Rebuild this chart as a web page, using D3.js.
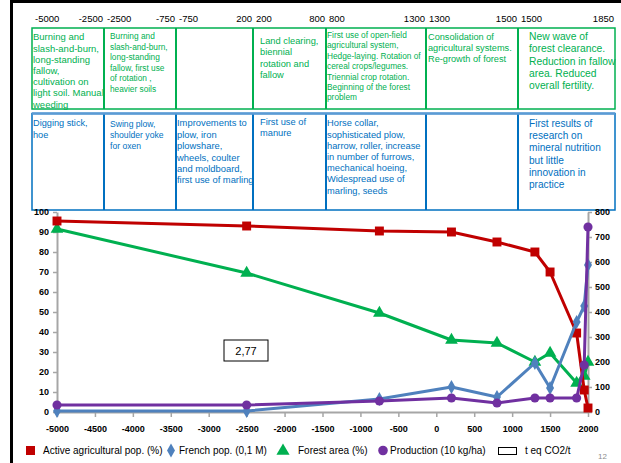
<!DOCTYPE html>
<html>
<head>
<meta charset="utf-8">
<script src="https://cdn.jsdelivr.net/npm/d3@7"></script>
<style>
  body { margin: 0; background: #fff; }
  svg { display: block; font-family: "Liberation Sans", Arial, sans-serif; }
</style>
</head>
<body>
<div id="chart"></div>
<script>
// periods of the table (start, end)
const periods = [[-5000, -2500], [-2500, -750], [-750, 200], [200, 800], [800, 1300], [1300, 1500], [1500, 1850]];

// agricultural systems row
const practices = [
  ["Burning and", "slash-and-burn,", "long-standing", "fallow,", "cultivation on", "light soil. Manual", "weeding"],
  ["Burning and", "slash-and-burn,", "long-standing", "fallow, first use", "of rotation ,", "heavier soils"],
  [],
  ["Land clearing,", "biennial", "rotation and", "fallow"],
  ["First use of open-field", "agricultural system,", "Hedge-laying. Rotation of", "cereal crops/legumes.", "Triennial crop rotation.", "Beginning of the forest", "problem"],
  ["Consolidation of", "agricultural systems.", "Re-growth of forest"],
  ["New wave of", "forest clearance.", "Reduction in fallow", "area. Reduced", "overall fertility."]
];

// tools row
const tools = [
  ["Digging stick,", "hoe"],
  ["Swing plow,", "shoulder yoke", "for oxen"],
  ["Improvements to", "plow, iron", "plowshare,", "wheels, coulter", "and moldboard,", "first use of marling"],
  ["First use of", "manure"],
  ["Horse collar,", "sophisticated plow,", "harrow, roller, increase", "in number of furrows,", "mechanical hoeing,", "Widespread use of", "marling, seeds"],
  [],
  ["First results of", "research on", "mineral nutrition", "but little", "innovation in", "practice"]
];

// chart data
const years = [-5000, -2500, -750, 200, 800, 1300, 1500, 1850, 1950, 2000];
const activePop = [95.5, 93, 90.5, 90, 85, 80, 70, 39.5, 11, 2];
const forestArea = [91.5, 69.5, 49.5, 36, 34.5, 25, 29.5, 14.5, 18, 25];
const frenchPop = [4, 4, 52, 100, 60, 196, 96, 360, 424, 588];
const production = [28, 28, 44, 56, 36, 56, 56, 56, 188, 740];

const xTicks = d3.range(-5000, 2001, 500);
const leftTicks = d3.range(0, 101, 10);
const rightTicks = d3.range(0, 801, 100);
const legendLabels = ["Active agricultural pop. (%)", "French pop. (0,1 M)", "Forest area (%)", "Production (10 kg/ha)", "t eq CO2/t"];
const boxValue = "2,77";

const W = 621, H = 463;
const GREEN = "#00b050", BLUE = "#0070c0";

const svg = d3.select("#chart").append("svg").attr("width", W).attr("height", H);

// slide frame
svg.append("rect").attr("x", 10).attr("y", 0).attr("width", W - 10).attr("height", 3).attr("fill", "#000");
svg.append("rect").attr("x", 10).attr("y", 0).attr("width", 3).attr("height", H).attr("fill", "#000");

// ---------- table ----------
const edges = [32, 104, 176, 253, 326, 426, 518, 615];

const head = svg.append("g").attr("font-size", 9.5).attr("fill", "#000");
periods.forEach(function(p, i) {
  head.append("text").attr("x", edges[i] + 3).attr("y", 22).text(p[0]);
  head.append("text").attr("x", edges[i + 1] - 1).attr("y", 22).attr("text-anchor", "end").text(p[1]);
});

function row(y0, y1, color, topColor, topWidth) {
  const g = svg.append("g").attr("fill", "none");
  g.append("rect").attr("x", edges[0]).attr("y", y0).attr("width", edges[7] - edges[0]).attr("height", y1 - y0)
    .attr("stroke", color).attr("stroke-width", 1.5);
  edges.slice(1, -1).forEach(function(e) {
    g.append("line").attr("x1", e).attr("x2", e).attr("y1", y0).attr("y2", y1)
      .attr("stroke", color).attr("stroke-width", 2);
  });
  if (topColor) {
    g.append("line").attr("x1", edges[0]).attr("x2", edges[7]).attr("y1", y0).attr("y2", y0)
      .attr("stroke", topColor).attr("stroke-width", topWidth);
  }
}
row(28, 109, GREEN);
row(113.5, 210, BLUE, "#5b9bd5", 2.5);

// per-column text layout: [x, first line centre, line step, font size]
const practiceLayout = [[33, 37, 11.2, 9.5], [110, 36, 10.6, 8.3], [0, 0, 0, 0], [260, 41, 11.1, 9.3],
  [327, 35, 10.4, 8.3], [428, 37, 11, 9.2], [529, 36, 12.4, 10.3]];
const toolLayout = [[33, 123, 11.5, 9.2], [110, 124, 11, 8.6], [177, 123, 11.4, 9.4], [260, 122, 11, 9.3],
  [327, 123, 11.2, 9.3], [0, 0, 0, 0], [529, 123, 12.3, 10.1]];

function cellText(lines, layout, color) {
  lines.forEach(function(col, i) {
    const l = layout[i];
    svg.append("g").attr("fill", color).attr("font-size", l[3])
      .selectAll("text").data(col).join("text")
      .attr("x", l[0]).attr("y", (d, j) => l[1] + j * l[2] + l[3] * 0.36)
      .text(d => d);
  });
}
cellText(practices, practiceLayout, GREEN);
cellText(tools, toolLayout, BLUE);

// ---------- chart ----------
const x = d3.scaleLinear().domain([-5000, 2000]).range([57, 588]);
const yL = d3.scaleLinear().domain([0, 100]).range([412, 212]);
const yR = d3.scaleLinear().domain([0, 800]).range([412, 212]);

const axisColor = "#a6a6a6";
function styleAxis(g) {
  g.selectAll(".domain").attr("stroke", axisColor).attr("stroke-width", 2);
  g.selectAll(".tick line").attr("stroke", axisColor).attr("stroke-width", 1.5);
  g.selectAll(".tick text").attr("fill", "#000").attr("font-weight", "bold").attr("font-size", 9)
    .attr("font-family", "'Liberation Sans', Arial, sans-serif");
}
const plain = d => String(d);

svg.append("g").attr("transform", "translate(0,412)")
  .call(d3.axisBottom(x).tickValues(xTicks).tickFormat(plain).tickSize(5).tickSizeOuter(0).tickPadding(9))
  .call(styleAxis);
svg.append("g").attr("transform", "translate(57,0)")
  .call(d3.axisLeft(yL).tickValues(leftTicks).tickFormat(plain).tickSize(4).tickSizeOuter(0).tickPadding(4))
  .call(styleAxis);
svg.append("g").attr("transform", "translate(588,0)")
  .call(d3.axisRight(yR).tickValues(rightTicks).tickFormat(plain).tickSize(4).tickSizeOuter(0).tickPadding(3))
  .call(styleAxis);

const series = [
  { values: forestArea, y: yL, color: "#00b050", shape: d3.symbolTriangle, size: 70 },
  { values: activePop, y: yL, color: "#c00000", shape: d3.symbolSquare, size: 80 },
  { values: frenchPop, y: yR, color: "#4f81bd", shape: d3.symbolDiamond, size: 55 },
  { values: production, y: yR, color: "#7030a0", shape: d3.symbolCircle, size: 65 }
];

series.forEach(function(s) {
  const pts = years.map((yr, i) => [x(yr), s.y(s.values[i])]);
  svg.append("path").attr("d", d3.line()(pts)).attr("fill", "none")
    .attr("stroke", s.color).attr("stroke-width", 3).attr("stroke-linejoin", "round");
  svg.append("g").selectAll("path").data(pts).join("path")
    .attr("transform", d => `translate(${d[0]},${d[1]})`)
    .attr("d", d3.symbol(s.shape, s.size)())
    .attr("fill", s.color);
});

// value box
svg.append("rect").attr("x", 224).attr("y", 340).attr("width", 44).attr("height", 21)
  .attr("fill", "#fff").attr("stroke", "#000").attr("stroke-width", 1);
svg.append("text").attr("x", 246).attr("y", 355).attr("text-anchor", "middle")
  .attr("font-size", 11).text(boxValue);

// ---------- legend ----------
const lg = svg.append("g").attr("font-size", 10).attr("fill", "#000");
lg.append("rect").attr("x", 26).attr("y", 446).attr("width", 9).attr("height", 9).attr("fill", "#c00000");
lg.append("text").attr("x", 43).attr("y", 454).text(legendLabels[0]);
lg.append("path").attr("transform", "translate(171,450.5)").attr("d", d3.symbol(d3.symbolDiamond, 55)()).attr("fill", "#4f81bd");
lg.append("text").attr("x", 179).attr("y", 454).text(legendLabels[1]);
lg.append("path").attr("transform", "translate(283,451)").attr("d", d3.symbol(d3.symbolTriangle, 75)()).attr("fill", "#00b050");
lg.append("text").attr("x", 298).attr("y", 454).text(legendLabels[2]);
lg.append("circle").attr("cx", 383).attr("cy", 450.5).attr("r", 4.8).attr("fill", "#7030a0");
lg.append("text").attr("x", 390).attr("y", 454).text(legendLabels[3]);
lg.append("rect").attr("x", 498.5).attr("y", 447.5).attr("width", 18).attr("height", 7)
  .attr("fill", "#fff").attr("stroke", "#000").attr("stroke-width", 1);
lg.append("text").attr("x", 525).attr("y", 454).text(legendLabels[4]);

svg.append("text").attr("x", 598).attr("y", 459).attr("font-size", 8).attr("fill", "#8c8c8c").text("12");
</script>
</body>
</html>
